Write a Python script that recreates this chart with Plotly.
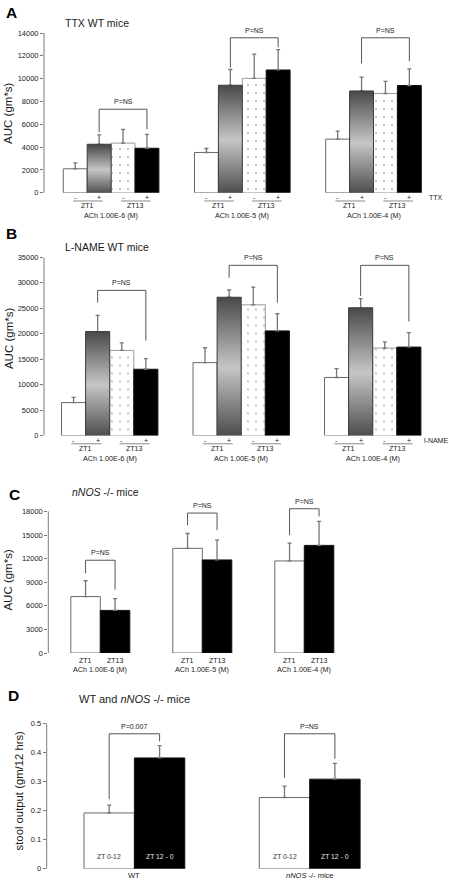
import plotly.graph_objects as go

W, H = 449, 885
FONT = "Liberation Sans, Arial, sans-serif"

# ------------------------------------------------------------------ data
conc_labels = ["ACh 1.00E-6 (M)", "ACh 1.00E-5 (M)", "ACh 1.00E-4 (M)"]
zt_labels = ["ZT1", "ZT13"]
sign_labels = ["-", "+", "-", "+"]

# Panel A : TTX WT mice (AUC gm*s)
A_white = [2100, 3530, 4700]
A_white_sem = [520, 350, 700]
A_grad = [4250, 9420, 8920]
A_grad_sem = [820, 1380, 1220]
A_dot = [4350, 10030, 8700]
A_dot_sem = [1210, 2120, 1060]
A_black = [3900, 10760, 9400]
A_black_sem = [1210, 1780, 1460]
A_br_top = [7320, 13580, 13580]
A_br_left = [5300, 10980, 11330]
A_br_right = [5560, 12750, 11530]
A_ticks = [0, 2000, 4000, 6000, 8000, 10000, 12000, 14000]

# Panel B : L-NAME WT mice
B_white = [6480, 14330, 11410]
B_white_sem = [1040, 2920, 1750]
B_grad = [20430, 27170, 25100]
B_grad_sem = [3170, 1430, 1810]
B_dot = [16730, 25680, 17190]
B_dot_sem = [1490, 3500, 1230]
B_black = [13030, 20560, 17380]
B_black_sem = [2080, 3370, 2850]
B_br_top = [28520, 33440, 33440]
B_br_left = [26100, 31000, 27400]
B_br_right = [18680, 26100, 22400]
B_ticks = [0, 5000, 10000, 15000, 20000, 25000, 30000, 35000]

# Panel C : nNOS -/- mice
C_white = [7180, 13310, 11710]
C_white_sem = [2010, 1890, 2270]
C_black = [5420, 11840, 13690]
C_black_sem = [1510, 2560, 3060]
C_br_top = [11800, 17800, 18350]
C_br_left = [10160, 16250, 14990]
C_br_right = [8060, 15620, 17380]
C_ticks = [0, 3000, 6000, 9000, 12000, 15000, 18000]

# Panel D : stool output
D_groups = ["WT", "<i>nNOS</i> -/- mice"]
D_bar_labels = ["ZT 0-12", "ZT 12 - 0"]
D_white = [0.192, 0.245]
D_white_sem = [0.027, 0.039]
D_black = [0.381, 0.308]
D_black_sem = [0.042, 0.054]
D_br_top = [0.464, 0.464]
D_br_left = [0.239, 0.313]
D_br_right = [0.438, 0.378]
D_p = ["P=0.007", "P=NS"]
D_ticks = [0, 0.1, 0.2, 0.3, 0.4, 0.5]
D_ticktext = ["0", "0.1", "0.2", "0.3", "0.4", "0.5"]

# ------------------------------------------------------------------ layout specs (pixels)
SPECS = {
    1: dict(axis=44, right=445, first=63.3, unit=23.9, group=131.2, bottom=190.7,
            top_px=29.3, top=14000, rtop=14000),
    2: dict(axis=44, right=445, first=61.5, unit=24.1, group=131.5, bottom=436,
            top_px=256, top=35000, rtop=35000),
    3: dict(axis=48.3, right=445, first=70.8, unit=29.5, group=102, bottom=655.7,
            top_px=512.7, top=18000, rtop=19000),
    4: dict(axis=46.7, right=445, first=84, unit=50.4, group=175.3, bottom=873.7,
            top_px=726.7, top=0.5, rtop=0.5),
}

def pxx(p):
    return p / W

def pxy(p):
    return 1 - p / H

def sfx(n):
    return "" if n == 1 else str(n)

def xpos(n, g, i):
    s = SPECS[n]
    return g * s["group"] / s["unit"] + i

TXT = "#1a1a1a"
AX = "#7a7a7a"
ERR = dict(color="#767676", thickness=1.3, width=2)

fig = go.Figure()
layout = dict(
    width=W, height=H, margin=dict(l=0, r=0, t=0, b=0),
    paper_bgcolor="white", plot_bgcolor="white", showlegend=False,
    barmode="overlay", font=dict(family=FONT, color=TXT),
)
annotations = []
shapes = []

for n, ticks in [(1, A_ticks), (2, B_ticks), (3, C_ticks), (4, D_ticks)]:
    s = SPECS[n]
    xmin = -0.5 - (s["first"] - s["axis"]) / s["unit"]
    xmax = xmin + (s["right"] - s["axis"]) / s["unit"]
    ppu = (s["bottom"] - s["top_px"]) / s["top"]
    top_px = s["bottom"] - s["rtop"] * ppu
    layout["xaxis" + sfx(n)] = dict(domain=[pxx(s["axis"]), pxx(s["right"])], range=[xmin, xmax],
                                   visible=False, anchor="y" + sfx(n), fixedrange=True)
    ya = dict(domain=[pxy(s["bottom"]), pxy(top_px)], range=[0, s["rtop"]], anchor="x" + sfx(n),
              showgrid=False, zeroline=False, showline=False, tickvals=ticks,
              ticktext=D_ticktext if n == 4 else [str(t) for t in ticks],
              ticks="outside", ticklen=3, tickwidth=1, tickcolor=AX,
              tickfont=dict(size=7.5, color=TXT, family=FONT), fixedrange=True)
    layout["yaxis" + sfx(n)] = ya
    # axis line up to the top tick
    shapes.append(dict(type="line", xref="x%s domain" % sfx(n), yref="y" + sfx(n),
                       x0=0, x1=0, y0=0, y1=s["top"], line=dict(color=AX, width=1)))


def add_bar(n, xs, vals, sems, color, line_color, pattern=None):
    marker = dict(color=color, line=dict(color=line_color, width=1))
    if pattern:
        marker["pattern"] = pattern
    fig.add_trace(go.Bar(
        x=xs, y=vals, width=1, marker=marker,
        error_y=dict(type="data", array=sems, arrayminus=[0] * len(sems), symmetric=False, **ERR),
        xaxis="x" + sfx(n), yaxis="y" + sfx(n), hoverinfo="y"))


def add_gradient(n, xs, vals, sems):
    # transparent bar carries the error bars
    fig.add_trace(go.Bar(
        x=xs, y=vals, width=1, marker=dict(color="rgba(0,0,0,0)", line=dict(width=0)),
        error_y=dict(type="data", array=sems, arrayminus=[0] * len(sems), symmetric=False, **ERR),
        xaxis="x" + sfx(n), yaxis="y" + sfx(n), hoverinfo="skip"))
    for x, v in zip(xs, vals):
        fig.add_trace(go.Scatter(
            x=[x - 0.5, x + 0.5, x + 0.5, x - 0.5, x - 0.5], y=[0, 0, v, v, 0],
            mode="lines", fill="toself",
            fillgradient=dict(type="vertical", start=0, stop=v,
                              colorscale=[[0, "#4a4a4a"], [0.5, "#c6c6c6"], [1, "#4a4a4a"]]),
            line=dict(color="#3c3c3c", width=1),
            xaxis="x" + sfx(n), yaxis="y" + sfx(n), hoverinfo="skip"))


def add_brackets(n, i_left, i_right, tops, lefts, rights, labels):
    for g, (t, l, r) in enumerate(zip(tops, lefts, rights)):
        xl = xpos(n, g, i_left)
        xr = xpos(n, g, i_right)
        shapes.append(dict(type="path", xref="x" + sfx(n), yref="y" + sfx(n),
                           path="M %f,%f L %f,%f L %f,%f L %f,%f" % (xl, l, xl, t, xr, t, xr, r),
                           line=dict(color="#555555", width=1)))
        annotations.append(dict(xref="x" + sfx(n), yref="y" + sfx(n), x=(xl + xr) / 2, y=t,
                                yanchor="bottom", yshift=2, showarrow=False, text=labels[g],
                                font=dict(size=7, color=TXT)))


def paper_text(text, x, y, size, xanchor="center", bold=False, angle=0, color=TXT):
    annotations.append(dict(xref="paper", yref="paper", x=pxx(x), y=pxy(y), text=text,
                            showarrow=False, xanchor=xanchor, yanchor="middle", textangle=angle,
                            font=dict(size=size, color=color, family=FONT,
                                      weight="bold" if bold else "normal")))


def four_bar_panel(n, white, wsem, grad, gsem, dot, dsem, black, bsem, tops, lefts, rights, treat):
    g_idx = range(len(white))
    add_bar(n, [xpos(n, g, 0) for g in g_idx], white, wsem, "white", "#6a6a6a")
    add_gradient(n, [xpos(n, g, 1) for g in g_idx], grad, gsem)
    add_bar(n, [xpos(n, g, 2) for g in g_idx], dot, dsem, "white", "#9a9a9a",
            pattern=dict(shape=".", fgcolor="#666666", bgcolor="white", size=8, solidity=0.05))
    add_bar(n, [xpos(n, g, 3) for g in g_idx], black, bsem, "black", "#111111")
    add_brackets(n, 1, 3, tops, lefts, rights, ["P=NS"] * len(tops))
    s = SPECS[n]
    b = s["bottom"]
    for g in g_idx:
        for i, lab in enumerate(sign_labels):
            annotations.append(dict(xref="x" + sfx(n), yref="paper", x=xpos(n, g, i), y=pxy(b + 4.5),
                                    text=lab, showarrow=False, yanchor="middle",
                                    font=dict(size=7, color=TXT)))
        for k, zt in enumerate(zt_labels):
            c = xpos(n, g, 2 * k + 0.5) + 0.03
            shapes.append(dict(type="line", xref="x" + sfx(n), yref="paper",
                               x0=c - 0.62, x1=c + 0.62, y0=pxy(b + 8.3), y1=pxy(b + 8.3),
                               line=dict(color="#8a8a8a", width=1)))
            annotations.append(dict(xref="x" + sfx(n), yref="paper", x=c - 0.03, y=pxy(b + 12.8),
                                    text=zt, showarrow=False, yanchor="middle",
                                    font=dict(size=7, color=TXT)))
        annotations.append(dict(xref="x" + sfx(n), yref="paper", x=xpos(n, g, 1.5), y=pxy(b + 22.8),
                                text=conc_labels[g], showarrow=False, yanchor="middle",
                                font=dict(size=7.2, color=TXT)))
    paper_text(treat, 436, b + 4.5, 7)


# Panel A
four_bar_panel(1, A_white, A_white_sem, A_grad, A_grad_sem, A_dot, A_dot_sem, A_black, A_black_sem,
               A_br_top, A_br_left, A_br_right, "TTX")
# Panel B
four_bar_panel(2, B_white, B_white_sem, B_grad, B_grad_sem, B_dot, B_dot_sem, B_black, B_black_sem,
               B_br_top, B_br_left, B_br_right, "l-NAME")

# Panel C
gC = range(len(C_white))
add_bar(3, [xpos(3, g, 0) for g in gC], C_white, C_white_sem, "white", "#6a6a6a")
add_bar(3, [xpos(3, g, 1) for g in gC], C_black, C_black_sem, "black", "#111111")
add_brackets(3, 0, 1, C_br_top, C_br_left, C_br_right, ["P=NS"] * 3)
for g in gC:
    for i, zt in enumerate(zt_labels):
        annotations.append(dict(xref="x3", yref="paper", x=xpos(3, g, i), y=pxy(SPECS[3]["bottom"] + 7.2),
                                text=zt, showarrow=False, yanchor="middle", font=dict(size=7, color=TXT)))
    annotations.append(dict(xref="x3", yref="paper", x=xpos(3, g, 0.5), y=pxy(SPECS[3]["bottom"] + 16.4),
                            text=conc_labels[g], showarrow=False, yanchor="middle",
                            font=dict(size=7.2, color=TXT)))

# Panel D
gD = range(len(D_white))
add_bar(4, [xpos(4, g, 0) for g in gD], D_white, D_white_sem, "white", "#6a6a6a")
add_bar(4, [xpos(4, g, 1) for g in gD], D_black, D_black_sem, "black", "#111111")
add_brackets(4, 0, 1, D_br_top, D_br_left, D_br_right, D_p)
for g in gD:
    annotations.append(dict(xref="x4", yref="paper", x=xpos(4, g, 0), y=pxy(861),
                            text=D_bar_labels[0], showarrow=False, yanchor="middle",
                            font=dict(size=6.8, color="#333333")))
    annotations.append(dict(xref="x4", yref="paper", x=xpos(4, g, 1), y=pxy(861),
                            text=D_bar_labels[1], showarrow=False, yanchor="middle",
                            font=dict(size=6.8, color="#e8e8e8")))
    annotations.append(dict(xref="x4", yref="paper", x=xpos(4, g, 0.5), y=pxy(880),
                            text=D_groups[g], showarrow=False, yanchor="middle",
                            font=dict(size=7.5, color=TXT)))

# Panel letters, titles and y-axis labels
paper_text("A", 11.7, 8.5, 15.5, bold=True, color="black")
paper_text("B", 11.5, 232, 15.5, bold=True, color="black")
paper_text("C", 14, 495.5, 15.5, bold=True, color="black")
paper_text("D", 13, 699, 15.5, bold=True, color="black")

paper_text("TTX WT mice", 62.5, 19.5, 10.5, xanchor="left")
paper_text("L-NAME WT mice", 62.5, 245, 10.5, xanchor="left")
paper_text("<i>nNOS</i> -/- mice", 69.5, 493.5, 10.5, xanchor="left")
paper_text("WT and <i>nNOS</i> -/- mice", 77, 702.5, 11, xanchor="left")

paper_text("AUC (gm*s)", 8, 110, 11.5, angle=-90)
paper_text("AUC (gm*s)", 8.5, 338, 11.5, angle=-90)
paper_text("AUC (gm*s)", 8.5, 582, 11.5, angle=-90)
paper_text("stool output (gm/12 hrs)", 18.5, 795, 11.3, angle=-90)

layout["annotations"] = annotations
layout["shapes"] = shapes
fig.update_layout(**layout)
fig.write_html(
    "out.html",
    config={"displayModeBar": False},
    post_script="document.body.style.margin='0';document.body.style.padding='0';"
                "document.documentElement.style.overflow='hidden';",
)
